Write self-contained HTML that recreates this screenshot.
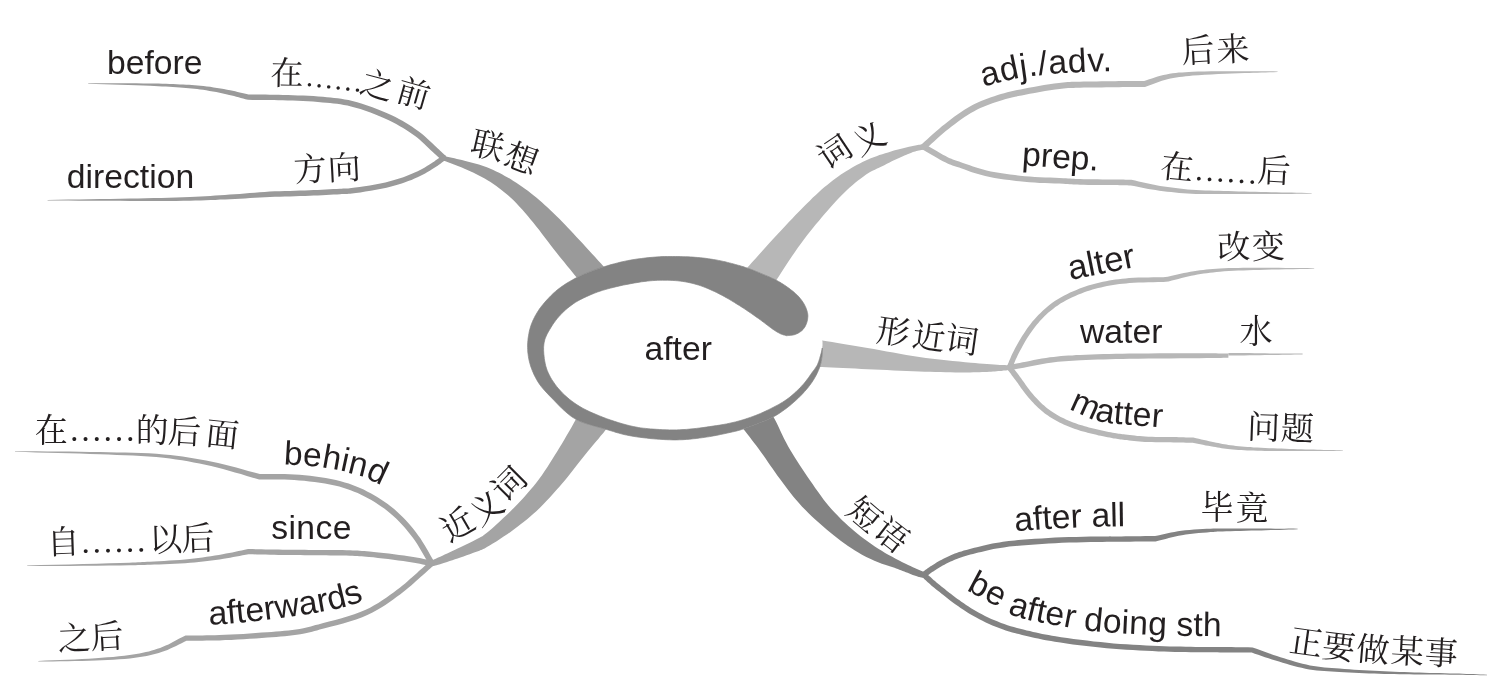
<!DOCTYPE html>
<html lang="zh"><head><meta charset="utf-8"><title>after — mind map</title>
<style>html,body{margin:0;padding:0;background:#fff}body{width:1505px;height:696px;overflow:hidden;font-family:"Liberation Sans",sans-serif}svg{display:block;will-change:transform}</style></head>
<body>
<svg width="1505" height="696" viewBox="0 0 1505 696">
<defs><path id="p1" d="M975 90L976.4 89.5L977.8 89L979.2 88.4L980.6 87.9L982.2 87.4L984 86.8L987.5 85.7L991.6 84.5L996 83.3L1000.7 82L1005.4 80.8L1010 79.8L1014.8 78.8L1019.7 78L1024.7 77.2L1029.7 76.5L1034.8 75.8L1040 75.2L1045.7 74.6L1051.5 74L1057.3 73.5L1063.2 73.1L1069.1 72.7L1075 72.3L1080.9 72L1087 71.7L1093.1 71.5L1099.1 71.3L1104.7 71.1L1110 71L1113.7 70.9L1117.1 70.9L1120.3 70.9L1123.5 70.8L1126.7 70.8L1130 70.8"/><path id="p2" d="M1060 403.7L1061.7 404.6L1063.4 405.5L1065 406.4L1066.8 407.4L1068.6 408.3L1070.5 409.3L1073.4 410.7L1076.5 412.2L1079.8 413.8L1083.1 415.3L1086.4 416.8L1089.5 418L1091.9 418.9L1094.1 419.7L1096.3 420.4L1098.5 421L1100.8 421.6L1103.4 422.2L1107.3 422.9L1111.5 423.4L1116 423.8L1120.6 424.2L1125.3 424.6L1130 425L1135.2 425.5L1140.7 425.9L1146.3 426.3L1151.7 426.7L1156.9 427.1L1161.6 427.4L1164.6 427.6L1167.5 427.8L1170.1 427.9L1172.7 428.1L1175.3 428.2L1178 428.4"/><path id="p3" d="M1005 532.3L1006.6 532.1L1008 532L1009.5 531.8L1011.1 531.7L1012.9 531.5L1015 531.3L1021.4 530.8L1029.6 530.2L1038.9 529.5L1048.7 528.9L1058.7 528.3L1068 527.8L1077.4 527.4L1087.3 527L1097.2 526.7L1106.6 526.5L1115 526.3L1121.9 526.2L1124.6 526.2L1126.9 526.2L1129 526.2L1131 526.2L1132.9 526.2L1135 526.2"/><path id="p4" d="M958 584.8L959.5 585.7L960.9 586.6L962.3 587.4L963.7 588.3L965.3 589.3L967.2 590.4L971.2 592.7L976.1 595.3L981.4 598.2L986.9 601.1L992.2 604L997 606.5L1000.3 608.3L1003.2 610.1L1006.1 611.8L1009 613.4L1012.2 615L1016 616.5L1023.3 618.7L1032.1 620.8L1041.6 622.7L1051.2 624.4L1060.2 625.9L1068 627.3L1072.2 628.1L1075.9 628.8L1079.3 629.4L1082.8 629.9L1086.6 630.5L1091 631L1100.2 631.9L1110.8 632.7L1122.5 633.5L1134.6 634.1L1146.6 634.7L1158 635.2L1168.9 635.6L1180.1 635.8L1191.3 636L1202 636.1L1211.7 636.2L1220 636.3L1224 636.4L1227.5 636.4L1230.7 636.4L1233.7 636.4L1236.8 636.5L1240 636.5"/><path id="p5" d="M270 464.5L272.2 464.5L274.5 464.5L276.7 464.5L279 464.6L281.1 464.6L283 464.6L284.3 464.6L285.4 464.6L286.6 464.6L287.7 464.7L288.8 464.7L290 464.7L291.5 464.7L293.2 464.8L294.8 464.8L296.5 464.9L298.2 465L300 465.1L302.1 465.2L304.3 465.4L306.5 465.6L308.8 465.8L311 466.1L313.2 466.3L315.2 466.5L317.2 466.8L319.2 467L321.1 467.3L323.1 467.5L325 467.8L326.8 468.1L328.6 468.3L330.3 468.6L332.1 468.8L333.8 469.1L335.4 469.4L336.8 469.7L338.1 470L339.4 470.2L340.7 470.5L342 470.9L343.4 471.2L345 471.6L346.5 472L348.2 472.5L349.8 472.9L351.4 473.4L353 473.9L354.6 474.4L356.2 474.8L357.8 475.3L359.4 475.8L360.9 476.4L362.5 476.9L364 477.5L365.5 478.1L367 478.7L368.5 479.3L370 479.9L371.5 480.6L373 481.3L374.5 482L376 482.7L377.5 483.4L379 484.1L380.6 484.9L382.5 485.9L384.5 486.9L386.5 488L388.4 489L390.3 490L392 491L393.1 491.6L394.1 492.3L395.1 492.8L396.1 493.4L397 494L398 494.6"/><path id="p6" d="M199 624.8L200.7 624.7L202.3 624.7L204 624.6L205.6 624.6L207.3 624.5L209 624.5L210.7 624.5L212.3 624.5L213.9 624.5L215.7 624.5L217.7 624.4L220 624.3L227.3 623.8L236.7 623L247.4 621.9L258.8 620.7L270.1 619.4L280.7 618.1L290.7 616.7L301 615.2L311.3 613.6L321.2 611.9L330.2 610.3L338.1 608.6L342.3 607.6L346.1 606.6L349.5 605.5L352.8 604.5L355.9 603.5L359 602.5L361.4 601.7L363.6 601L365.7 600.2L367.8 599.5L369.9 598.7L372 598"/></defs>
<rect width="1505" height="696" fill="#fff"/>
<g id="branches">
<path fill="#9a9a9a" d="M444.5 156.2L447 156.8L449.5 157.3L451.9 157.8L454.4 158.3L456.9 158.9L459.4 159.4L461.9 160.1L464.5 160.7L467.3 161.4L470.2 162.2L473.1 163L476 163.8L478.9 164.6L481.8 165.5L484.7 166.5L487.5 167.6L490.4 168.8L493.3 170.1L496.2 171.4L499.1 172.8L502 174.3L504.8 175.9L507.7 177.4L510.5 179.1L513.4 180.9L516.3 182.7L519.2 184.7L522.1 186.7L524.9 188.7L527.8 190.8L530.6 193L533.4 195.2L536.3 197.6L539.2 200L542.1 202.6L545 205.2L547.9 207.8L550.7 210.5L553.6 213.2L556.4 215.9L559.3 218.8L562.2 221.7L565.1 224.7L567.9 227.7L570.8 230.7L573.6 233.8L576.5 236.9L579.4 240L582.5 243.3L585.6 246.7L588.8 250.2L592 253.7L595.1 257.1L598.1 260.4L601 263.5L603.6 266.4L605.3 268.3L607 270.1L608.6 271.8L610.1 273.5L611.5 275.1L613 276.7L614.5 278.3L616 280L588 291L586.7 289.4L585.4 287.8L584.1 286.3L582.8 284.7L581.4 283.1L580.1 281.5L578.6 279.7L577.1 277.9L574.8 275.2L572.4 272.2L569.8 269.1L567.2 265.9L564.5 262.6L561.8 259.3L559.1 255.9L556.4 252.6L553.6 249L550.7 245.3L547.9 241.5L545 237.7L542.1 233.9L539.2 230.1L536.3 226.4L533.4 222.8L530.6 219.4L527.8 216.1L525 212.8L522.2 209.5L519.3 206.4L516.4 203.3L513.5 200.3L510.5 197.5L507.7 195L504.9 192.7L502.1 190.4L499.2 188.2L496.3 186.1L493.4 184L490.5 182.1L487.5 180.2L484.7 178.5L481.8 176.9L478.9 175.4L476 174L473.1 172.6L470.2 171.3L467.4 170L464.5 168.7L461.9 167.6L459.2 166.5L456.6 165.5L454 164.5L451.4 163.5L448.7 162.6L446.1 161.6L443.5 160.6Z"/>
<path fill="#b7b7b7" d="M923 144.2L921.9 144.4L920.8 144.5L919.8 144.7L918.8 144.8L917.7 145L916.5 145.2L915.3 145.4L914 145.7L911.6 146.2L909 146.8L906.1 147.5L903.1 148.2L900.1 149L897 149.8L893.9 150.6L891 151.5L888.1 152.4L885.2 153.3L882.3 154.2L879.4 155.1L876.5 156.2L873.6 157.2L870.8 158.3L868 159.5L865.2 160.7L862.5 162L859.8 163.4L857.1 164.8L854.4 166.3L851.8 167.8L849.1 169.4L846.5 171L843.7 172.8L840.9 174.6L838.2 176.6L835.4 178.5L832.7 180.6L829.9 182.7L827.2 184.9L824.5 187.1L821.6 189.6L818.7 192.2L815.8 194.9L812.9 197.6L810.1 200.4L807.2 203.3L804.4 206.1L801.5 209L798.5 212L795.5 215.1L792.6 218.2L789.6 221.3L786.6 224.5L783.6 227.7L780.6 231L777.5 234.3L774 238.1L770.3 242.1L766.5 246.3L762.7 250.4L759.1 254.5L755.6 258.4L752.3 262L749.5 265.3L747.9 267.1L746.5 268.8L745.2 270.4L743.9 272L742.7 273.5L741.5 274.9L740.3 276.4L739 278L769 293L770 291.3L770.9 289.7L771.8 288.1L772.7 286.4L773.7 284.8L774.7 283L775.9 281.1L777.1 279.1L779.4 275.4L782.1 271.2L785 266.7L788.1 262L791.3 257.2L794.6 252.4L797.8 247.8L801 243.4L803.9 239.5L806.9 235.6L809.9 231.8L812.9 228L815.9 224.3L819 220.7L822 217.1L825 213.6L827.7 210.4L830.5 207.3L833.2 204.3L835.9 201.2L838.7 198.3L841.4 195.4L844.2 192.7L847 190L849.7 187.6L852.4 185.2L855.2 182.8L858 180.6L860.8 178.4L863.5 176.4L866.1 174.6L868.5 173L870.1 172.1L871.5 171.2L873 170.5L874.4 169.9L875.8 169.3L877.1 168.6L878.5 168L880 167.3L881.6 166.5L883.2 165.7L884.8 164.9L886.4 164L888 163.2L889.6 162.4L891.3 161.6L892.9 160.8L894.5 160L896.2 159.3L897.9 158.5L899.6 157.7L901.2 157L902.9 156.3L904.4 155.6L905.9 155L907 154.5L908 154.1L909 153.7L910 153.3L911 152.9L911.9 152.5L912.9 152.1L914 151.8L915.2 151.5L916.4 151.1L917.7 150.8L918.9 150.6L920.2 150.3L921.5 150L922.7 149.8L924 149.5Z"/>
<path fill="#b7b7b7" d="M805 337.5L807.1 337.9L809.1 338.2L811.1 338.5L813.1 338.9L815.2 339.2L817.4 339.6L819.7 340L822.3 340.4L826.9 341.2L832.1 342L837.6 343L843.4 343.9L849.5 344.9L855.6 346L861.6 347L867.6 348L873.9 349.1L880.3 350.3L886.7 351.5L893.2 352.6L899.7 353.8L906.3 355L912.8 356L919.3 357L925.9 357.9L932.6 358.7L939.3 359.5L946.1 360.3L952.7 360.9L959.1 361.6L965.2 362.2L971 362.7L975.1 363.1L979.2 363.4L983.2 363.7L987 364L990.6 364.3L994.1 364.5L997.2 364.7L1000 364.9L1001.4 365L1002.7 365L1003.9 365.1L1005.1 365.1L1006.2 365.2L1007.2 365.2L1008.3 365.3L1009.5 365.3L1009.5 370L1008.3 370.1L1007.2 370.3L1006 370.4L1004.9 370.5L1003.7 370.6L1002.5 370.8L1001.3 370.9L1000 371L998.3 371.1L996.6 371.3L994.8 371.4L993 371.6L991.1 371.7L989.1 371.8L987.1 371.9L985 372L982.2 372.1L979.3 372.2L976.4 372.3L973.3 372.3L970.1 372.4L966.8 372.4L963.5 372.4L960 372.4L955.4 372.4L950.6 372.3L945.7 372.2L940.6 372.1L935.4 372L930 371.8L924.7 371.7L919.3 371.5L913.1 371.3L906.7 371L900.2 370.7L893.6 370.4L887 370.1L880.4 369.8L873.9 369.5L867.6 369.2L861.6 368.9L855.5 368.6L849.3 368.3L843.2 368L837.4 367.7L831.8 367.4L826.6 367.2L822 367L819.5 366.9L817.2 366.8L815 366.8L813 366.7L811 366.7L809.1 366.6L807.1 366.6L805 366.5Z"/>
<path fill="#838383" d="M764 402L765.1 403.8L766.3 405.5L767.4 407.1L768.5 408.8L769.7 410.6L770.8 412.4L772 414.3L773.2 416.4L774.9 419.6L776.7 423.1L778.5 426.8L780.3 430.7L782.2 434.7L784.1 438.7L786.1 442.6L788.2 446.4L790.4 450.2L792.7 454L795 457.7L797.4 461.5L799.8 465.2L802.3 469L804.8 472.7L807.3 476.4L809.9 480.2L812.6 484.1L815.2 488L818 491.8L820.7 495.6L823.5 499.4L826.3 503L829.2 506.4L831.8 509.4L834.4 512.3L837.1 515.1L839.7 517.8L842.4 520.5L845.2 523.1L848.1 525.7L851 528.3L854.2 531L857.5 533.7L860.9 536.4L864.3 539L867.8 541.5L871.3 544L874.8 546.4L878.3 548.7L881.7 550.8L885.1 552.9L888.7 554.9L892.2 556.8L895.6 558.7L899.1 560.5L902.4 562.2L905.6 563.8L908.1 565L910.5 566.1L912.9 567.2L915.2 568.2L917.5 569.2L919.8 570.2L922.2 571.2L924.5 572.2L923 577.6L922.5 577.5L922 577.5L921.5 577.4L921 577.4L920.5 577.3L920 577.3L919.4 577.1L918.8 577L917.5 576.6L916.1 576.1L914.5 575.6L912.8 574.9L911 574.2L909.3 573.5L907.6 572.8L905.9 572.2L904.3 571.6L902.7 570.9L901 570.3L899.4 569.7L897.8 569L896.2 568.4L894.5 567.8L892.9 567.2L891.3 566.7L889.7 566.2L888.2 565.7L886.6 565.2L885.1 564.8L883.4 564.3L881.8 563.7L880 563L877.5 562L875 560.9L872.3 559.8L869.6 558.5L866.8 557.2L863.9 555.7L861.1 554.2L858.3 552.6L854.9 550.5L851.5 548.3L848 545.9L844.5 543.4L841 540.9L837.5 538.2L834 535.5L830.6 532.7L826.9 529.7L823.2 526.6L819.5 523.3L815.8 520L812.2 516.7L808.6 513.3L805.2 509.8L801.9 506.4L798.9 503.1L796 499.8L793.2 496.4L790.5 492.9L787.8 489.5L785.2 486L782.6 482.6L780 479.1L777.5 475.7L775.1 472.3L772.7 468.8L770.3 465.4L767.9 461.9L765.6 458.5L763.3 455.2L760.9 451.9L758.6 448.8L756.4 445.8L754 442.7L751.7 439.7L749.5 436.8L747.3 433.9L745.2 431.2L743.2 428.7L741.8 426.9L740.5 425.2L739.2 423.6L737.9 422.1L736.7 420.6L735.5 419.1L734.3 417.6L733 416Z"/>
<path fill="#a4a4a4" d="M431 560.8L431.9 560.4L432.7 560L433.5 559.7L434.4 559.3L435.2 558.9L436.2 558.5L437.1 558.1L438.2 557.6L440.2 556.7L442.4 555.7L444.7 554.6L447.2 553.5L449.8 552.3L452.4 551L455.1 549.8L457.6 548.6L460.4 547.2L463.5 545.8L466.6 544.2L469.8 542.7L472.8 541.2L475.6 539.8L478 538.6L480 537.5L480.7 537.1L481.3 536.8L481.9 536.5L482.3 536.2L482.8 535.9L483.3 535.5L483.9 535.1L484.6 534.6L486.9 532.8L489.7 530.5L492.9 527.7L496.4 524.6L500 521.3L503.6 517.8L507.2 514.5L510.5 511.2L513.8 507.9L517.2 504.4L520.5 500.9L523.8 497.4L527 493.8L530.2 490.1L533.3 486.4L536.3 482.7L539.1 479L541.9 475.2L544.5 471.3L547.1 467.4L549.6 463.5L552.1 459.6L554.6 455.6L557 451.7L559.4 447.8L561.9 443.7L564.4 439.5L566.8 435.3L569.2 431.3L571.4 427.4L573.3 423.9L575.1 420.7L576 419L576.8 417.4L577.6 415.9L578.3 414.5L579 413.2L579.6 411.8L580.3 410.4L581 409L615 416L614.1 417.4L613.2 418.8L612.4 420.2L611.5 421.5L610.6 422.9L609.7 424.4L608.7 425.9L607.5 427.5L605.5 430.1L603.3 432.9L600.8 435.8L598.3 438.9L595.6 442L592.9 445.2L590.2 448.5L587.5 451.7L584.5 455.4L581.5 459.2L578.5 463.1L575.4 467.1L572.3 471.1L569.2 475L566 478.9L562.8 482.7L559.6 486.4L556.4 490.1L553.1 493.8L549.8 497.5L546.4 501.1L543.1 504.6L539.7 508L536.3 511.2L533.1 514.1L530 516.8L526.8 519.5L523.6 522.1L520.3 524.6L517.1 527.1L513.8 529.5L510.5 531.9L507.2 534.2L503.6 536.6L500 539.1L496.3 541.4L492.8 543.6L489.6 545.5L486.9 547.1L484.6 548.4L483.9 548.8L483.3 549.1L482.8 549.3L482.3 549.5L481.8 549.7L481.3 549.9L480.7 550.1L480 550.4L478 551.2L475.6 552.1L472.8 553.1L469.8 554.2L466.6 555.3L463.5 556.4L460.4 557.4L457.6 558.4L455 559.3L452.4 560.2L449.7 561.1L447.1 562L444.6 562.8L442.2 563.6L440.1 564.2L438.2 564.8L437.3 565L436.5 565.2L435.8 565.4L435.1 565.6L434.5 565.7L433.8 565.9L433.2 566L432.5 566.2Z"/>
<path fill="#9a9a9a" d="M88.2 83.8L96.1 84.1L104.2 84.3L112.3 84.5L120.5 84.7L128.4 85L136.1 85.2L143.3 85.5L150 85.8L154.2 86L158.3 86.2L162.2 86.4L165.8 86.6L169.4 86.8L172.9 87.1L176.4 87.3L179.9 87.6L182.9 87.8L185.9 88L188.7 88.3L191.6 88.5L194.4 88.8L197.2 89.1L200 89.4L203 89.8L206.2 90.3L209.5 90.9L212.9 91.5L216.3 92.1L219.6 92.8L222.9 93.5L226.1 94.2L229.2 94.9L231.7 95.5L234 96.1L236.3 96.7L238.6 97.3L240.8 97.9L243.1 98.5L245.4 99.2L248.1 99.8L252.6 99.9L256.9 99.9L261.2 100L265.4 100L269.7 100L274 100.1L278.4 100.2L282.8 100.3L287.7 100.5L292.7 100.6L297.8 100.8L303 101L308 101.3L313 101.6L317.9 102L322.6 102.4L326.4 102.7L330 103.1L333.5 103.4L337 103.8L340.4 104.3L343.8 104.9L347.4 105.6L351 106.4L355.6 107.7L360.4 109.1L365.4 110.8L370.4 112.6L375.4 114.5L380.2 116.5L384.9 118.5L389.3 120.5L392.8 122.3L396.2 124.1L399.5 125.9L402.7 127.8L405.9 129.7L408.9 131.7L411.8 133.7L414.7 135.8L417.1 137.6L419.5 139.6L421.9 141.7L424.1 143.8L426.4 145.9L428.5 147.9L430.5 149.9L432.5 151.7L433.8 152.9L434.9 154L436.1 155L437.1 156.1L438.2 157.1L439.3 158.1L440.3 159.1L441.4 160.2L445.6 155.8L444.5 154.8L443.4 153.8L442.3 152.8L441.3 151.7L440.2 150.7L439 149.6L437.8 148.5L436.5 147.3L434.6 145.5L432.6 143.6L430.4 141.6L428.2 139.5L425.8 137.3L423.3 135.1L420.8 133L418.1 131L415.2 128.9L412.1 126.8L409 124.8L405.7 122.8L402.4 120.8L399 118.9L395.4 117.1L391.7 115.3L387.2 113.2L382.4 111.2L377.5 109.2L372.4 107.2L367.2 105.4L362.1 103.7L357.2 102.2L352.4 101L348.5 100.1L344.8 99.4L341.2 98.8L337.7 98.3L334.1 97.9L330.6 97.5L326.9 97.2L323 96.8L318.3 96.4L313.4 96.1L308.3 95.8L303.2 95.6L298 95.4L292.9 95.2L287.9 95L283 94.9L278.5 94.8L274.1 94.7L269.8 94.7L265.5 94.6L261.2 94.6L256.9 94.6L252.6 94.6L248.5 94.6L246.6 94.1L244.4 93.5L242.1 93L239.8 92.4L237.5 91.9L235.2 91.3L232.7 90.8L230.2 90.3L227.1 89.7L223.8 89.1L220.5 88.5L217 87.9L213.6 87.4L210.1 86.8L206.8 86.4L203.4 86L200.5 85.7L197.6 85.4L194.7 85.2L191.8 85L189 84.8L186.1 84.7L183.1 84.6L180.1 84.4L176.6 84.2L173.1 84.1L169.6 84L166 83.8L162.3 83.7L158.4 83.6L154.3 83.5L150 83.4L143.4 83.4L136.1 83.3L128.5 83.2L120.5 83.2L112.4 83.2L104.2 83.2L96.1 83.2L88.2 83.2Z"/>
<path fill="#9a9a9a" d="M47.6 200.5L58 200.6L68.5 200.6L79.1 200.7L89.6 200.7L100.1 200.8L110.3 200.8L120.3 200.8L130 200.9L138 200.9L146 200.9L153.7 200.9L161.4 200.9L168.8 200.9L176.1 200.9L183.2 200.8L190.1 200.7L195.4 200.6L200.6 200.4L205.7 200.3L210.6 200.1L215.4 199.9L220.2 199.6L225.1 199.4L230 199.2L235 198.9L240 198.7L245 198.4L250 198.1L255 197.8L260 197.5L265 197.2L269.9 196.9L274.9 196.8L280 196.7L285 196.5L290.1 196.4L295.1 196.2L300.1 196.1L305 195.9L309.7 195.7L313.8 195.6L317.9 195.4L322.1 195.2L326.1 195L330 194.8L333.6 194.6L337.1 194.4L340.1 194.2L341.8 194.1L343.3 194.1L344.6 194L345.9 194L347.2 193.9L348.6 193.8L350.2 193.7L352 193.5L355.9 193L360.4 192.4L365.4 191.6L370.7 190.8L376.1 189.8L381.4 188.8L386.5 187.7L391.2 186.5L394.8 185.5L398.3 184.5L401.7 183.4L405.1 182.3L408.3 181.1L411.5 179.9L414.5 178.6L417.5 177.3L420.1 176L422.6 174.7L425.1 173.4L427.5 172L429.8 170.7L432 169.3L434 168L436 166.8L437.3 165.9L438.6 165L439.7 164.2L440.8 163.4L441.9 162.6L443 161.8L444 161L445.1 160.2L441.9 155.8L440.8 156.6L439.7 157.4L438.7 158.2L437.6 159L436.5 159.8L435.4 160.6L434.3 161.4L433 162.2L431.1 163.4L429.1 164.7L427 166L424.8 167.4L422.5 168.7L420.1 169.9L417.7 171.2L415.3 172.3L412.4 173.6L409.4 174.8L406.4 176L403.3 177.2L400 178.3L396.7 179.3L393.3 180.3L389.8 181.3L385.3 182.4L380.3 183.4L375.1 184.5L369.8 185.4L364.6 186.2L359.6 187L355.2 187.6L351.4 188.1L349.7 188.3L348.2 188.4L346.9 188.5L345.7 188.5L344.4 188.6L343.1 188.6L341.6 188.7L339.9 188.8L336.8 188.9L333.4 189.1L329.7 189.3L325.8 189.5L321.8 189.7L317.7 189.9L313.6 190.1L309.5 190.3L304.8 190.4L299.9 190.6L295 190.7L290 190.9L284.9 191L279.8 191.2L274.7 191.3L269.7 191.5L264.6 191.9L259.6 192.3L254.7 192.7L249.7 193.1L244.7 193.5L239.7 193.9L234.7 194.3L229.8 194.6L224.8 195L220 195.3L215.2 195.6L210.4 196L205.5 196.3L200.5 196.6L195.3 196.8L189.9 197.1L183.1 197.3L176.1 197.6L168.8 197.8L161.3 197.9L153.7 198.1L145.9 198.2L138 198.4L130 198.5L120.3 198.7L110.3 198.9L100.1 199.1L89.6 199.2L79.1 199.4L68.5 199.5L58 199.7L47.6 199.9Z"/>
<path fill="#b7b7b7" d="M1277.6 71.4L1273.5 71.3L1269.5 71.3L1265.5 71.3L1261.5 71.3L1257.4 71.3L1253.3 71.3L1249 71.3L1244.5 71.3L1238.4 71.3L1231.9 71.3L1225.1 71.3L1218.2 71.2L1211.3 71.3L1204.6 71.4L1198.3 71.5L1192.6 71.8L1188.9 72L1185.4 72.2L1182.1 72.4L1178.8 72.6L1175.7 73L1172.6 73.3L1169.5 73.8L1166.4 74.4L1163.4 75L1160.4 75.8L1157.6 76.6L1154.7 77.5L1151.9 78.4L1149.2 79.3L1146.4 80.2L1144.2 80.9L1140.9 80.9L1137.3 81L1133.7 81L1130 81L1126.4 81.1L1122.7 81.1L1119 81.1L1115.2 81.2L1110.8 81.2L1106.3 81.3L1101.6 81.3L1096.9 81.4L1092.3 81.4L1087.9 81.5L1083.7 81.6L1079.9 81.7L1077.6 81.7L1075.5 81.8L1073.6 81.8L1071.7 81.8L1069.7 81.9L1067.7 82L1065.5 82.2L1063.1 82.4L1058.9 82.9L1054.2 83.5L1049.2 84.2L1044 85.1L1038.7 86L1033.6 86.9L1028.6 87.8L1024 88.7L1020.5 89.4L1017.1 90.1L1013.8 90.8L1010.5 91.6L1007.3 92.3L1004.1 93.2L1000.9 94.1L997.7 95.1L994.3 96.2L991 97.3L987.7 98.5L984.4 99.8L981.1 101.1L977.8 102.6L974.5 104.1L971.2 105.8L967.8 107.7L964.4 109.8L961.1 112L957.8 114.3L954.5 116.6L951.3 119L948.1 121.5L945 123.9L941.9 126.3L938.9 128.9L935.9 131.4L933 134L930.2 136.6L927.3 139.2L924.4 141.8L921.5 144.4L925.7 149L928.6 146.4L931.4 143.8L934.3 141.2L937.2 138.6L940 136.1L942.9 133.6L945.8 131.1L948.8 128.7L951.9 126.3L955 124L958.2 121.6L961.3 119.3L964.5 117.1L967.7 115L970.9 113L974.2 111.2L977.2 109.6L980.3 108.1L983.5 106.8L986.6 105.5L989.8 104.2L993.1 103.1L996.3 102L999.5 100.9L1002.7 100L1005.7 99.1L1008.8 98.3L1011.9 97.5L1015.1 96.8L1018.3 96.1L1021.7 95.4L1025.2 94.7L1029.8 93.8L1034.7 92.9L1039.8 92L1045 91.1L1050.1 90.2L1055.1 89.5L1059.6 88.9L1063.7 88.4L1066 88.2L1068.1 88.1L1070 88L1071.8 87.9L1073.7 87.9L1075.6 87.8L1077.7 87.8L1080.1 87.7L1083.9 87.6L1088 87.6L1092.4 87.5L1097 87.4L1101.7 87.4L1106.3 87.3L1110.9 87.3L1115.2 87.2L1119 87.2L1122.8 87.1L1126.4 87.1L1130.1 87L1133.7 87L1137.3 87L1141 86.9L1145 86.9L1148.3 85.8L1151.1 84.7L1153.8 83.7L1156.5 82.7L1159.2 81.7L1161.9 80.8L1164.7 80L1167.4 79.2L1170.4 78.6L1173.3 78L1176.3 77.5L1179.3 77.1L1182.5 76.7L1185.7 76.3L1189.2 76L1192.8 75.6L1198.5 75.2L1204.7 74.8L1211.4 74.4L1218.2 74.1L1225.2 73.8L1232 73.6L1238.5 73.3L1244.5 73.1L1249 72.9L1253.3 72.8L1257.5 72.7L1261.5 72.5L1265.5 72.4L1269.5 72.3L1273.5 72.2L1277.6 72Z"/>
<path fill="#b7b7b7" d="M1311.7 193L1306.7 192.9L1301.7 192.8L1296.6 192.7L1291.6 192.6L1286.6 192.5L1281.6 192.4L1276.5 192.3L1271.4 192.2L1266.1 192L1260.7 191.9L1255.2 191.8L1249.7 191.7L1244.3 191.5L1238.9 191.4L1233.6 191.2L1228.3 191.1L1223.6 190.9L1218.9 190.8L1214.2 190.7L1209.6 190.6L1205.1 190.4L1200.6 190.2L1196.1 190L1191.7 189.7L1187.6 189.4L1183.6 189L1179.6 188.6L1175.6 188.1L1171.7 187.6L1167.8 187.1L1163.9 186.5L1160.1 185.9L1156.4 185.3L1152.9 184.6L1149.3 183.8L1145.8 183L1142.2 182.2L1138.7 181.4L1135.1 180.6L1131.4 179.8L1129.1 179.8L1127.3 179.7L1125.4 179.7L1123.5 179.6L1121.6 179.6L1119.6 179.6L1117.5 179.5L1115.2 179.5L1111.4 179.4L1107.1 179.4L1102.5 179.4L1097.7 179.3L1092.9 179.3L1088.2 179.3L1083.9 179.2L1080.1 179.1L1077.8 179L1075.7 178.9L1073.8 178.8L1071.9 178.7L1070 178.6L1068.1 178.4L1065.9 178.3L1063.5 178.2L1059.4 178L1054.9 177.8L1050.1 177.6L1045.1 177.4L1040 177.2L1034.8 176.9L1029.8 176.6L1024.9 176.2L1020 175.7L1015 175.1L1010.1 174.5L1005.1 173.8L1000.2 173L995.5 172.2L990.9 171.4L986.6 170.4L983.1 169.5L979.6 168.6L976.2 167.5L973 166.4L969.8 165.3L966.7 164.2L963.7 163.2L960.9 162.2L959.1 161.5L957.4 161L955.8 160.4L954.3 159.9L952.9 159.4L951.4 158.8L949.8 158.2L948.1 157.4L945.6 156.1L942.9 154.7L940 153.1L937.1 151.3L934.1 149.5L931 147.7L928 145.9L925.1 144.2L922.1 149.2L925.1 150.9L928.1 152.7L931.1 154.5L934.2 156.3L937.2 158.1L940.1 159.7L942.9 161.3L945.7 162.6L947.5 163.4L949.2 164.2L950.8 164.8L952.4 165.4L954 165.9L955.6 166.4L957.2 167L959.1 167.6L961.8 168.6L964.7 169.6L967.9 170.7L971.1 171.9L974.5 173L978 174.1L981.6 175.1L985.2 176L989.8 177L994.5 177.9L999.3 178.7L1004.3 179.5L1009.3 180.1L1014.4 180.8L1019.4 181.3L1024.3 181.8L1029.3 182.3L1034.5 182.6L1039.7 182.9L1044.9 183.1L1049.9 183.3L1054.7 183.5L1059.2 183.6L1063.3 183.8L1065.6 184L1067.7 184.1L1069.7 184.2L1071.6 184.3L1073.5 184.4L1075.4 184.5L1077.6 184.6L1079.9 184.7L1083.8 184.8L1088.2 184.9L1092.8 184.9L1097.6 185L1102.4 185L1107.1 185L1111.3 185.1L1115.2 185.1L1117.4 185.1L1119.5 185.2L1121.5 185.2L1123.4 185.3L1125.3 185.3L1127.1 185.3L1129 185.4L1130.6 185.4L1134 186L1137.6 186.7L1141.1 187.4L1144.7 188.2L1148.3 188.9L1151.9 189.5L1155.6 190.1L1159.3 190.7L1163.3 191.2L1167.2 191.7L1171.2 192.1L1175.2 192.5L1179.2 192.9L1183.2 193.2L1187.3 193.5L1191.5 193.7L1195.9 193.9L1200.5 194L1205 194.1L1209.6 194.1L1214.2 194.1L1218.8 194.1L1223.5 194.1L1228.3 194.1L1233.5 194.1L1238.8 194.1L1244.3 194.1L1249.7 194.1L1255.2 194.1L1260.6 194.1L1266 194.1L1271.4 194L1276.5 194L1281.6 194L1286.6 193.9L1291.6 193.9L1296.6 193.8L1301.7 193.8L1306.7 193.7L1311.7 193.6Z"/>
<path fill="#b7b7b7" d="M1314.2 268.2L1307.2 268.1L1300.1 268L1292.9 267.9L1285.8 267.9L1278.7 267.8L1271.8 267.7L1265.1 267.7L1258.6 267.7L1253.3 267.8L1248.2 267.8L1243.2 267.8L1238.2 267.9L1233.4 268L1228.7 268.1L1224.1 268.3L1219.7 268.5L1216.2 268.7L1212.8 269L1209.5 269.3L1206.3 269.6L1203.2 269.9L1200 270.3L1196.9 270.7L1193.7 271.2L1190.4 271.8L1187.1 272.4L1183.8 273.1L1180.5 273.8L1177.3 274.6L1174 275.3L1170.8 276.1L1167.7 276.7L1163.1 277.2L1158.2 277.3L1153.2 277.3L1148.2 277.4L1143.2 277.5L1138.3 277.6L1133.6 277.8L1129.1 278.1L1125.6 278.5L1122.1 278.8L1118.8 279.2L1115.5 279.6L1112.3 280.1L1109.2 280.6L1106 281.2L1102.9 281.8L1099.9 282.5L1096.9 283.2L1094 283.9L1091.1 284.7L1088.2 285.6L1085.4 286.5L1082.5 287.5L1079.6 288.6L1076.4 289.9L1073.3 291.2L1070.1 292.6L1066.9 294.2L1063.8 295.8L1060.7 297.4L1057.7 299.2L1054.8 301L1052.3 302.8L1049.7 304.7L1047.3 306.7L1045 308.7L1042.7 310.7L1040.5 312.9L1038.3 315L1036.3 317.2L1034.3 319.4L1032.4 321.6L1030.6 323.9L1028.8 326.3L1027.1 328.6L1025.5 331L1023.9 333.4L1022.3 335.8L1020.8 338.2L1019.3 340.7L1017.9 343.2L1016.5 345.8L1015.1 348.3L1013.9 350.8L1012.7 353.1L1011.6 355.3L1010.9 356.9L1010.3 358.4L1009.7 359.8L1009.1 361.1L1008.6 362.5L1008 363.8L1007.5 365.1L1007 366.5L1012 368.5L1012.6 367.2L1013.1 365.8L1013.7 364.5L1014.2 363.2L1014.7 361.9L1015.3 360.5L1015.9 359.1L1016.6 357.7L1017.6 355.5L1018.7 353.2L1020 350.8L1021.3 348.4L1022.6 345.9L1024 343.4L1025.4 341L1026.9 338.6L1028.4 336.3L1029.9 334L1031.5 331.7L1033.1 329.4L1034.8 327.2L1036.5 325L1038.3 322.9L1040.1 320.8L1042.1 318.7L1044.2 316.6L1046.3 314.6L1048.4 312.6L1050.7 310.7L1053 308.9L1055.3 307.1L1057.8 305.4L1060.4 303.6L1063.3 302L1066.2 300.3L1069.2 298.8L1072.3 297.3L1075.3 295.9L1078.4 294.6L1081.4 293.4L1084.2 292.3L1087 291.3L1089.8 290.4L1092.5 289.6L1095.3 288.8L1098.1 288.1L1101 287.4L1103.9 286.8L1107 286.1L1110 285.5L1113.1 285L1116.2 284.5L1119.4 284.1L1122.7 283.7L1126 283.4L1129.5 283.1L1133.9 282.7L1138.5 282.5L1143.3 282.4L1148.2 282.3L1153.2 282.2L1158.2 282.1L1163.3 282L1168.5 281.5L1171.9 280.6L1175.1 279.8L1178.3 278.9L1181.6 278.1L1184.8 277.3L1188 276.5L1191.1 275.8L1194.3 275.2L1197.5 274.6L1200.6 274.1L1203.7 273.6L1206.8 273.2L1209.9 272.8L1213.1 272.4L1216.5 272L1219.9 271.7L1224.3 271.3L1228.8 271L1233.5 270.8L1238.3 270.6L1243.2 270.4L1248.2 270.2L1253.4 270L1258.6 269.9L1265.1 269.7L1271.8 269.5L1278.7 269.4L1285.8 269.3L1292.9 269.2L1300.1 269.1L1307.2 269L1314.2 268.8Z"/>
<path fill="#b7b7b7" d="M1302.6 353.6L1298.5 353.5L1294.5 353.5L1290.5 353.5L1286.5 353.5L1282.5 353.4L1278.4 353.4L1274.3 353.4L1270 353.4L1265 353.3L1260 353.2L1254.8 353.2L1249.5 353.1L1244.2 353.1L1238.9 353L1233.6 352.9L1228.4 352.9L1228.4 355.5L1233.6 355.5L1238.9 355.4L1244.2 355.4L1249.5 355.3L1254.8 355.2L1260 355.2L1265 355.1L1270 355L1274.3 355L1278.4 354.9L1282.5 354.8L1286.6 354.8L1290.6 354.7L1294.5 354.6L1298.6 354.5L1302.6 354.4Z"/>
<path fill="#b7b7b7" d="M1228.4 353.5L1225.8 353.5L1223.3 353.4L1220.9 353.4L1218.5 353.4L1215.9 353.3L1213.2 353.3L1210.2 353.3L1206.9 353.3L1199.4 353.3L1190.5 353.3L1180.5 353.3L1170 353.3L1159.2 353.3L1148.5 353.4L1138.4 353.5L1129.3 353.6L1122.5 353.7L1116 353.8L1109.6 353.9L1103.4 354.1L1097.4 354.2L1091.5 354.4L1085.8 354.7L1080.4 354.9L1076.2 355.1L1072.3 355.4L1068.5 355.6L1064.7 355.8L1061.1 356.1L1057.4 356.5L1053.7 356.9L1049.9 357.3L1046 357.9L1041.9 358.6L1037.8 359.3L1033.7 360.1L1029.7 360.9L1026 361.7L1022.6 362.3L1019.6 362.9L1018 363.2L1016.6 363.4L1015.2 363.7L1014 363.9L1012.8 364.1L1011.5 364.3L1010.3 364.6L1009 364.8L1010 370.2L1011.3 370L1012.5 369.8L1013.7 369.5L1014.9 369.3L1016.2 369.1L1017.6 368.8L1019 368.6L1020.6 368.3L1023.7 367.7L1027.1 367L1030.8 366.3L1034.8 365.5L1038.8 364.7L1042.8 363.9L1046.8 363.2L1050.7 362.7L1054.3 362.2L1057.9 361.8L1061.5 361.5L1065.1 361.2L1068.8 361L1072.6 360.7L1076.5 360.5L1080.6 360.3L1086.1 360L1091.7 359.8L1097.5 359.6L1103.5 359.4L1109.7 359.2L1116.1 359.1L1122.6 358.9L1129.3 358.8L1138.5 358.7L1148.6 358.6L1159.2 358.5L1170 358.4L1180.5 358.3L1190.5 358.3L1199.4 358.2L1206.9 358.1L1210.2 358.1L1213.2 358L1216 358L1218.5 357.9L1220.9 357.9L1223.3 357.8L1225.8 357.8L1228.4 357.7Z"/>
<path fill="#b7b7b7" d="M1342.9 450.4L1339.7 450.3L1336.6 450.2L1333.4 450.1L1330.3 450.1L1327.1 450L1323.9 449.9L1320.6 449.8L1317.3 449.7L1313.5 449.6L1309.6 449.5L1305.6 449.4L1301.6 449.3L1297.5 449.2L1293.5 449L1289.4 448.9L1285.4 448.8L1281.4 448.6L1277.3 448.5L1273.2 448.3L1269.2 448.2L1265.1 448L1261.2 447.8L1257.3 447.6L1253.6 447.4L1250.5 447.1L1247.5 446.9L1244.5 446.7L1241.6 446.5L1238.8 446.2L1236 445.9L1233.3 445.6L1230.6 445.3L1228.5 445L1226.4 444.6L1224.4 444.3L1222.4 443.9L1220.4 443.5L1218.3 443.1L1216.3 442.7L1214.1 442.2L1211.7 441.7L1209.2 441.2L1206.6 440.6L1204 440L1201.4 439.4L1198.8 438.8L1196.1 438.2L1193.3 437.6L1190.7 437.5L1188.4 437.4L1186 437.4L1183.7 437.3L1181.4 437.2L1178.9 437.2L1176.4 437.1L1173.9 437L1170.5 437L1166.9 436.9L1163.2 436.9L1159.5 436.9L1155.7 436.9L1152 436.8L1148.5 436.7L1145.1 436.5L1142.5 436.3L1139.8 436.1L1137.2 435.9L1134.7 435.6L1132.2 435.3L1129.8 435.1L1127.5 434.8L1125.3 434.5L1123.8 434.3L1122.5 434.2L1121.2 434L1119.9 433.8L1118.7 433.7L1117.4 433.5L1116.1 433.3L1114.7 433L1112.7 432.7L1110.7 432.3L1108.6 431.9L1106.4 431.5L1104.2 431L1102 430.5L1099.8 430L1097.6 429.6L1095.5 429L1093.3 428.5L1091.1 428L1088.9 427.4L1086.8 426.8L1084.7 426.3L1082.6 425.6L1080.5 425L1078.6 424.4L1076.8 423.7L1074.9 423.1L1073.1 422.4L1071.3 421.7L1069.5 421L1067.7 420.2L1065.9 419.4L1064.2 418.6L1062.5 417.7L1060.7 416.9L1059 416L1057.3 415L1055.7 414.1L1054.1 413.1L1052.5 412.1L1051 411.1L1049.6 410.1L1048.2 409L1046.8 407.9L1045.4 406.8L1044.1 405.6L1042.7 404.4L1041.4 403.2L1039.9 401.8L1038.5 400.3L1037.1 398.8L1035.6 397.3L1034.2 395.7L1032.8 394.1L1031.5 392.4L1030.2 390.9L1029 389.3L1027.8 387.8L1026.7 386.3L1025.6 384.7L1024.5 383.1L1023.4 381.5L1022.2 379.9L1021.1 378.3L1019.9 376.7L1018.7 375.1L1017.6 373.6L1016.4 372L1015.2 370.5L1014.1 368.9L1012.9 367.4L1011.7 365.8L1007.3 369.2L1008.4 370.7L1009.6 372.3L1010.8 373.8L1011.9 375.4L1013.1 376.9L1014.2 378.5L1015.4 380L1016.5 381.5L1017.7 383.1L1018.8 384.7L1019.9 386.3L1021 387.9L1022.2 389.5L1023.3 391.1L1024.6 392.7L1025.8 394.3L1027.2 396L1028.6 397.7L1030 399.3L1031.5 401L1033 402.6L1034.5 404.2L1036.1 405.7L1037.6 407.2L1039 408.5L1040.5 409.8L1041.9 411L1043.4 412.2L1044.8 413.4L1046.3 414.5L1047.9 415.6L1049.5 416.7L1051.2 417.8L1052.9 418.8L1054.6 419.8L1056.4 420.8L1058.2 421.8L1060 422.7L1061.8 423.5L1063.7 424.4L1065.5 425.2L1067.4 426L1069.2 426.8L1071.1 427.5L1073 428.2L1075 428.9L1076.9 429.6L1078.9 430.2L1081 430.9L1083.2 431.5L1085.4 432.1L1087.6 432.7L1089.8 433.3L1092 433.8L1094.2 434.3L1096.4 434.8L1098.6 435.4L1100.8 435.8L1103.1 436.3L1105.3 436.8L1107.5 437.2L1109.7 437.6L1111.8 438L1113.7 438.4L1115.2 438.6L1116.6 438.8L1117.9 439L1119.2 439.2L1120.5 439.4L1121.8 439.5L1123.2 439.7L1124.7 439.9L1126.9 440.1L1129.2 440.4L1131.6 440.7L1134.1 441L1136.7 441.2L1139.4 441.5L1142.1 441.7L1144.9 441.9L1148.3 442L1151.9 442.1L1155.6 442.2L1159.4 442.2L1163.2 442.3L1166.9 442.3L1170.4 442.3L1173.7 442.4L1176.3 442.4L1178.8 442.5L1181.2 442.5L1183.6 442.6L1185.9 442.7L1188.2 442.7L1190.6 442.8L1192.7 442.8L1195.1 443.3L1197.7 443.8L1200.3 444.3L1203 444.8L1205.6 445.4L1208.2 445.8L1210.8 446.3L1213.3 446.8L1215.4 447.1L1217.5 447.5L1219.6 447.8L1221.6 448.2L1223.7 448.5L1225.8 448.8L1227.9 449.1L1230.2 449.3L1232.9 449.6L1235.6 449.8L1238.5 450L1241.3 450.1L1244.3 450.3L1247.3 450.4L1250.3 450.5L1253.4 450.6L1257.2 450.8L1261.1 450.8L1265 450.9L1269.1 450.9L1273.2 451L1277.3 451L1281.4 451L1285.4 451L1289.4 451.1L1293.4 451.1L1297.5 451.1L1301.6 451.1L1305.6 451.1L1309.6 451.1L1313.5 451.1L1317.3 451.1L1320.6 451.1L1323.9 451.1L1327.1 451.1L1330.3 451.1L1333.4 451.1L1336.6 451.1L1339.7 451.1L1342.9 451Z"/>
<path fill="#838383" d="M1297.7 528.7L1293.2 528.6L1288.6 528.6L1284.1 528.7L1279.6 528.7L1275.1 528.7L1270.6 528.6L1266 528.6L1261.4 528.6L1256.4 528.6L1251.1 528.6L1245.8 528.5L1240.4 528.5L1235.2 528.4L1230.4 528.4L1226.1 528.4L1222.6 528.4L1221.2 528.4L1220 528.4L1218.9 528.4L1218 528.4L1217 528.4L1215.9 528.4L1214.8 528.5L1213.4 528.5L1210.3 528.7L1206.7 528.8L1202.7 529L1198.4 529.3L1194 529.6L1189.6 529.9L1185.3 530.3L1181.3 530.8L1177.8 531.3L1174.4 531.9L1171 532.6L1167.7 533.3L1164.5 534L1161.2 534.7L1158 535.4L1155 536L1150.4 536.1L1145.4 536.1L1140.2 536.2L1135.1 536.2L1130.2 536.3L1125.6 536.3L1121.4 536.4L1117.8 536.4L1116.2 536.4L1114.8 536.4L1113.6 536.4L1112.5 536.4L1111.3 536.4L1110 536.3L1108.6 536.4L1106.9 536.4L1102.2 536.4L1096.6 536.5L1090.3 536.6L1083.4 536.7L1076.2 536.9L1068.9 537.1L1061.8 537.3L1055.1 537.6L1048.4 538L1041.7 538.4L1034.8 538.8L1028 539.3L1021.3 539.8L1014.8 540.4L1008.7 541.1L1003 541.8L999.3 542.4L995.7 543L992.4 543.6L989.1 544.3L986 545L982.9 545.7L979.9 546.4L976.9 547.2L974.3 547.8L971.6 548.5L969 549.2L966.4 549.9L963.8 550.6L961.4 551.4L959 552.1L956.6 552.9L954.8 553.6L953.1 554.3L951.4 555L949.8 555.7L948.2 556.4L946.6 557.2L945 558L943.4 558.8L941.7 559.7L940 560.6L938.2 561.6L936.5 562.6L934.8 563.7L933.2 564.7L931.6 565.7L930.1 566.6L929 567.4L927.9 568.1L926.9 568.9L925.9 569.6L925 570.3L924 571L923.1 571.7L922.1 572.4L925.5 577L926.5 576.3L927.4 575.6L928.4 574.9L929.3 574.2L930.2 573.5L931.2 572.8L932.2 572.1L933.3 571.4L934.7 570.4L936.2 569.5L937.8 568.5L939.4 567.5L941.1 566.5L942.7 565.6L944.4 564.7L946 563.8L947.5 563L949.1 562.3L950.6 561.6L952.1 560.9L953.6 560.2L955.2 559.5L956.8 558.9L958.6 558.3L960.8 557.5L963 556.8L965.4 556L967.9 555.3L970.4 554.6L973 554L975.6 553.3L978.3 552.6L981.3 551.9L984.2 551.2L987.2 550.5L990.3 549.8L993.4 549.1L996.7 548.5L1000.2 547.9L1003.8 547.4L1009.3 546.6L1015.3 546L1021.7 545.4L1028.4 544.9L1035.2 544.4L1042 543.9L1048.8 543.5L1055.3 543.2L1062 542.8L1069.1 542.6L1076.3 542.4L1083.5 542.2L1090.4 542.1L1096.7 542L1102.3 541.9L1106.9 541.8L1108.6 541.8L1110 541.8L1111.3 541.8L1112.4 541.8L1113.6 541.8L1114.8 541.8L1116.2 541.8L1117.8 541.8L1121.4 541.8L1125.6 541.8L1130.2 541.7L1135.2 541.6L1140.3 541.6L1145.4 541.5L1150.5 541.5L1155.6 541.4L1159.2 540.5L1162.4 539.7L1165.6 538.9L1168.8 538.1L1172 537.3L1175.3 536.5L1178.6 535.8L1181.9 535.2L1185.8 534.6L1190 534L1194.3 533.5L1198.7 533.1L1202.9 532.7L1206.9 532.4L1210.5 532.1L1213.6 531.9L1214.9 531.8L1216.1 531.7L1217.1 531.6L1218 531.6L1219 531.5L1220 531.5L1221.2 531.5L1222.6 531.4L1226.2 531.3L1230.4 531.2L1235.2 531L1240.4 530.9L1245.8 530.8L1251.2 530.6L1256.4 530.5L1261.4 530.4L1266 530.2L1270.6 530.1L1275.1 530L1279.6 529.9L1284.1 529.7L1288.7 529.6L1293.2 529.5L1297.7 529.3Z"/>
<path fill="#838383" d="M1487 674.7L1483.6 674.5L1480.2 674.4L1476.8 674.3L1473.4 674.1L1469.9 674L1466.4 673.9L1462.8 673.8L1459.1 673.6L1454.5 673.5L1449.7 673.4L1444.7 673.2L1439.7 673.1L1434.6 673L1429.4 672.9L1424.3 672.7L1419.3 672.6L1414.3 672.4L1409.4 672.3L1404.4 672.1L1399.4 671.9L1394.4 671.7L1389.4 671.5L1384.4 671.3L1379.5 671.1L1374.4 670.8L1369.3 670.6L1364.2 670.3L1359.2 670L1354.1 669.7L1349.2 669.3L1344.3 669L1339.6 668.6L1335.7 668.3L1331.8 668L1328.1 667.7L1324.4 667.4L1320.8 667L1317.2 666.6L1313.6 666L1310 665.4L1306.3 664.6L1302.5 663.8L1298.8 662.8L1295.1 661.7L1291.4 660.6L1287.7 659.5L1284 658.3L1280.4 657.2L1276.9 656L1273.5 654.9L1270.1 653.7L1266.7 652.4L1263.3 651.2L1259.9 650L1256.5 648.7L1252.6 647.4L1248.1 647.3L1244 647.3L1239.8 647.2L1235.6 647.2L1231.5 647.1L1227.5 647.1L1223.7 647.1L1220 647L1217.3 647L1214.8 647L1212.5 647L1210.2 647L1207.8 647L1205.4 647L1202.8 647L1200 646.9L1195.6 646.9L1190.8 646.8L1185.8 646.7L1180.6 646.6L1175.2 646.5L1169.7 646.4L1164.2 646.2L1158.7 646L1152.5 645.7L1146.2 645.4L1139.8 645.1L1133.3 644.8L1126.7 644.3L1120.1 643.9L1113.6 643.4L1107.2 642.8L1100.6 642.1L1093.8 641.4L1087 640.6L1080.3 639.8L1073.6 638.9L1067.2 638.1L1061.2 637.2L1055.6 636.3L1052 635.7L1048.6 635.1L1045.3 634.5L1042.2 633.9L1039.2 633.2L1036.1 632.6L1033.1 631.9L1029.9 631.1L1026.7 630.4L1023.4 629.6L1020.2 628.8L1017 628L1013.8 627.1L1010.6 626.2L1007.5 625.2L1004.3 624.1L1001.1 622.9L997.8 621.6L994.6 620.3L991.3 618.9L988.1 617.4L985 615.9L981.9 614.3L978.9 612.8L976.3 611.3L973.7 609.8L971.1 608.2L968.6 606.5L966.1 604.9L963.8 603.3L961.4 601.7L959.2 600.1L957.5 598.9L955.8 597.7L954.2 596.5L952.6 595.3L951.1 594.1L949.6 592.9L948 591.7L946.4 590.4L944.8 589.1L943.1 587.8L941.4 586.4L939.7 585.1L938.1 583.7L936.5 582.4L935 581.1L933.5 579.9L932.5 578.9L931.5 578L930.5 577.1L929.5 576.2L928.6 575.4L927.6 574.5L926.7 573.6L925.7 572.7L921.9 576.7L922.9 577.6L923.8 578.5L924.7 579.4L925.7 580.3L926.7 581.2L927.7 582.2L928.7 583.1L929.9 584.1L931.3 585.4L932.9 586.7L934.5 588L936.2 589.4L937.9 590.8L939.6 592.1L941.3 593.5L943 594.8L944.6 596L946.1 597.3L947.7 598.5L949.2 599.7L950.8 600.9L952.5 602.2L954.2 603.4L956 604.7L958.3 606.2L960.6 607.9L963 609.5L965.6 611.2L968.2 612.9L970.8 614.5L973.5 616.1L976.3 617.6L979.4 619.3L982.5 620.8L985.8 622.4L989.1 623.9L992.4 625.4L995.8 626.7L999.1 628.1L1002.5 629.3L1005.7 630.4L1009 631.4L1012.3 632.4L1015.6 633.3L1018.9 634.1L1022.1 634.9L1025.4 635.7L1028.7 636.5L1031.8 637.2L1035 637.9L1038 638.6L1041.1 639.2L1044.3 639.9L1047.6 640.5L1051.1 641.1L1054.8 641.7L1060.4 642.6L1066.5 643.5L1072.9 644.4L1079.6 645.2L1086.4 646L1093.2 646.8L1100 647.6L1106.6 648.2L1113.2 648.8L1119.7 649.3L1126.3 649.7L1132.9 650.1L1139.5 650.5L1145.9 650.8L1152.3 651.1L1158.5 651.4L1164 651.6L1169.5 651.8L1175.1 651.9L1180.5 652L1185.7 652.1L1190.8 652.2L1195.5 652.2L1200 652.3L1202.8 652.3L1205.4 652.3L1207.8 652.3L1210.1 652.3L1212.5 652.3L1214.8 652.3L1217.3 652.3L1220 652.4L1223.6 652.4L1227.5 652.4L1231.5 652.5L1235.6 652.5L1239.8 652.5L1243.9 652.6L1248.1 652.6L1251.8 652.6L1254.8 653.7L1258.2 654.8L1261.6 656L1265 657.2L1268.5 658.3L1272 659.5L1275.5 660.6L1279 661.6L1282.7 662.7L1286.4 663.8L1290.2 664.9L1293.9 665.9L1297.7 666.9L1301.6 667.8L1305.4 668.7L1309.2 669.4L1313 670L1316.7 670.4L1320.4 670.8L1324.1 671.1L1327.8 671.3L1331.6 671.5L1335.4 671.8L1339.4 672L1344.1 672.3L1349 672.6L1354 672.8L1359 673L1364.1 673.2L1369.2 673.4L1374.3 673.6L1379.3 673.7L1384.3 673.9L1389.3 674L1394.3 674.1L1399.3 674.2L1404.3 674.2L1409.3 674.3L1414.3 674.4L1419.3 674.4L1424.3 674.5L1429.4 674.5L1434.5 674.6L1439.6 674.6L1444.7 674.6L1449.6 674.7L1454.5 674.7L1459.1 674.8L1462.8 674.8L1466.4 674.9L1469.9 675L1473.3 675L1476.7 675.1L1480.1 675.2L1483.5 675.3L1487 675.3Z"/>
<path fill="#a4a4a4" d="M15 451.8L25.7 452.1L36.5 452.4L47.4 452.7L58.3 453L69 453.2L79.6 453.6L89.9 453.9L100 454.3L108.4 454.6L116.8 454.9L125 455.2L133 455.6L140.9 456L148.6 456.5L156.2 457.1L163.6 457.8L169.9 458.6L176 459.4L182 460.3L187.9 461.3L193.7 462.4L199.5 463.6L205.3 464.8L211.1 466.1L217.1 467.5L223 469L229 470.7L234.9 472.4L240.9 474.1L246.8 475.9L252.8 477.7L259.1 479.4L264.5 479.5L269.5 479.6L274.5 479.6L279.4 479.6L284.4 479.6L289.3 479.8L294.2 480L299.2 480.4L304.2 480.8L309.4 481.4L314.6 482L319.8 482.7L324.9 483.5L329.8 484.4L334.7 485.4L339.3 486.6L343.1 487.7L346.9 489L350.6 490.3L354.2 491.7L357.7 493.1L361.1 494.7L364.6 496.4L367.9 498.2L371.3 500.1L374.6 502.1L377.9 504.2L381.2 506.4L384.3 508.6L387.4 511L390.4 513.4L393.3 515.9L396.1 518.5L398.8 521.2L401.4 524L404 526.8L406.5 529.7L408.9 532.7L411.3 535.8L413.6 538.8L415.7 541.8L417.8 545L419.7 548.2L421.6 551.4L423.5 554.7L425.4 558L427.3 561.4L429.3 564.7L434.3 561.7L432.3 558.5L430.4 555.2L428.5 551.8L426.6 548.5L424.7 545.2L422.6 541.9L420.5 538.6L418.2 535.4L415.9 532.3L413.4 529.1L410.9 526.1L408.3 523L405.6 520.1L402.9 517.2L400 514.4L397.1 511.7L394.1 509L390.9 506.5L387.7 504.1L384.4 501.7L381 499.4L377.6 497.2L374.2 495.2L370.7 493.2L367.1 491.4L363.6 489.6L360 488L356.3 486.4L352.5 485L348.7 483.6L344.8 482.4L340.7 481.2L335.9 480L330.9 478.9L325.8 478L320.6 477.2L315.3 476.5L310 475.8L304.8 475.3L299.6 474.8L294.6 474.5L289.5 474.2L284.5 474.1L279.5 474.1L274.5 474L269.5 474L264.5 474L259.9 474L254.2 472.5L248.2 470.9L242.3 469.2L236.2 467.6L230.2 466L224.2 464.5L218.1 463L212.1 461.7L206.1 460.5L200.2 459.4L194.4 458.4L188.5 457.4L182.6 456.6L176.5 455.8L170.3 455L164 454.4L156.5 453.8L148.8 453.3L141 453L133.1 452.7L125.1 452.6L116.9 452.4L108.5 452.3L100 452.1L90 451.9L79.6 451.7L69 451.6L58.3 451.5L47.4 451.4L36.5 451.3L25.7 451.3L15 451.2Z"/>
<path fill="#a4a4a4" d="M27.2 566.1L40.5 566L54.5 566L68.9 565.9L83.1 565.8L96.7 565.7L109.2 565.6L120.3 565.4L129.3 565.3L132.6 565.2L135.5 565.2L138 565.1L140.3 565.1L142.5 565L144.8 564.9L147.3 564.8L150.1 564.7L154.5 564.6L159.2 564.4L164.3 564.2L169.5 564L174.7 563.8L180 563.5L185.2 563.2L190.1 562.8L194.4 562.4L198.8 562L203.1 561.5L207.3 561L211.4 560.5L215.5 559.9L219.5 559.4L223.5 558.8L226.8 558.3L230.1 557.7L233.3 557.1L236.4 556.5L239.5 555.9L242.6 555.3L245.7 554.7L248.5 554.2L252.6 554.3L256.9 554.4L261.2 554.5L265.5 554.6L269.9 554.7L274.2 554.8L278.5 554.9L282.9 554.9L287.2 555L291.6 555L295.9 555.1L300.3 555.1L304.7 555.2L309 555.2L313.3 555.2L317.6 555.3L321.7 555.3L326 555.3L330.2 555.4L334.4 555.4L338.5 555.4L342.5 555.5L346.3 555.6L349.9 555.7L352.5 555.8L354.9 555.9L357.2 556L359.4 556.2L361.6 556.3L363.9 556.5L366.4 556.7L369 556.9L373.3 557.3L378 557.9L383 558.4L388.1 559.1L393.3 559.7L398.4 560.4L403.2 561.1L407.7 561.7L410.9 562.2L414 562.8L416.9 563.3L419.8 563.8L422.7 564.4L425.5 564.9L428.4 565.4L431.3 566L432.3 560.4L429.4 559.9L426.5 559.4L423.7 558.9L420.8 558.3L417.9 557.8L414.9 557.3L411.8 556.8L408.5 556.3L404 555.6L399.1 554.9L394 554.3L388.8 553.6L383.6 553L378.6 552.4L373.9 551.9L369.6 551.5L366.8 551.2L364.3 551L362 550.9L359.7 550.7L357.5 550.6L355.1 550.5L352.7 550.4L350.1 550.3L346.4 550.2L342.6 550.1L338.5 550.1L334.4 550L330.2 550L326 550L321.8 550L317.6 549.9L313.3 549.9L309 549.9L304.7 549.8L300.3 549.8L296 549.8L291.6 549.8L287.3 549.7L282.9 549.7L278.6 549.6L274.3 549.5L270 549.4L265.7 549.4L261.3 549.3L257 549.2L252.7 549.1L248.1 549L244.7 549.7L241.6 550.4L238.5 551L235.4 551.7L232.3 552.4L229.2 553L226 553.6L222.7 554.2L218.8 554.9L214.9 555.5L210.8 556.2L206.7 556.8L202.5 557.4L198.3 558L194 558.5L189.7 559L184.9 559.4L179.8 559.9L174.5 560.2L169.3 560.6L164.1 560.9L159.1 561.2L154.3 561.4L149.9 561.7L147.1 561.8L144.7 562L142.4 562.1L140.2 562.2L137.9 562.3L135.4 562.4L132.6 562.6L129.3 562.7L120.2 563L109.2 563.3L96.7 563.7L83.1 564L68.9 564.4L54.5 564.7L40.5 565.1L27.2 565.5Z"/>
<path fill="#a4a4a4" d="M38.3 661.5L45.5 661.4L52.8 661.4L60.2 661.3L67.5 661.2L74.8 661.1L81.9 661L88.9 660.8L95.8 660.5L101.7 660.3L107.5 660L113.3 659.7L119.1 659.3L124.6 658.9L130 658.4L135.1 657.8L140 657.1L143.4 656.5L146.7 655.9L149.8 655.2L152.8 654.5L155.8 653.8L158.7 652.9L161.5 652L164.5 651L167.5 649.9L170.4 648.6L173.2 647.3L176.1 646L178.9 644.6L181.6 643.2L184.4 641.8L186.5 640.7L190.2 640.7L194.2 640.7L198.3 640.7L202.4 640.7L206.5 640.6L210.8 640.6L215.1 640.5L219.6 640.4L225.2 640.1L231.2 639.9L237.4 639.6L243.6 639.2L249.8 638.8L256 638.4L261.9 638L267.5 637.6L272 637.2L276.3 636.9L280.6 636.6L284.9 636.2L289 635.8L292.9 635.3L296.8 634.8L300.4 634.3L303.1 633.8L305.5 633.3L307.8 632.8L310 632.3L312.2 631.7L314.5 631.1L317 630.4L319.7 629.6L324.7 628.3L330.4 626.8L336.6 625.2L343.1 623.4L349.6 621.5L356.1 619.4L362.2 617.2L367.9 614.8L372.5 612.5L377 610.1L381.3 607.5L385.4 604.9L389.3 602.2L393.2 599.5L396.8 596.8L400.4 594.2L403.2 592.1L406 589.8L408.7 587.6L411.2 585.4L413.7 583.3L416.1 581.1L418.4 579.1L420.6 577.1L422.4 575.5L424.1 574L425.8 572.5L427.4 571L429 569.6L430.5 568.2L432.1 566.7L433.7 565.3L429.9 561.1L428.3 562.6L426.7 564L425.2 565.5L423.6 566.9L422 568.4L420.4 569.8L418.7 571.3L417 572.9L414.7 574.9L412.4 577L410 579.1L407.6 581.2L405.1 583.4L402.5 585.5L399.8 587.7L397 589.8L393.5 592.4L389.9 595L386.2 597.7L382.3 600.3L378.3 602.9L374.2 605.3L370 607.7L365.7 609.8L360.2 612.1L354.3 614.2L348 616.3L341.6 618.2L335.2 619.9L329 621.5L323.3 623L318.3 624.4L315.5 625.1L313.1 625.8L310.8 626.4L308.6 627L306.5 627.5L304.4 628L302.1 628.5L299.6 628.9L296 629.5L292.3 630L288.4 630.4L284.4 630.8L280.2 631.2L275.9 631.5L271.5 631.9L267.1 632.2L261.5 632.6L255.6 633.1L249.5 633.5L243.3 633.9L237.1 634.2L230.9 634.5L225 634.8L219.4 635L215 635.2L210.7 635.3L206.5 635.3L202.4 635.4L198.3 635.4L194.2 635.4L190.1 635.4L185.5 635.5L182 637.2L179.3 638.6L176.6 640.1L173.8 641.6L171.1 643L168.4 644.4L165.7 645.6L162.9 646.8L160.1 647.9L157.3 648.8L154.6 649.7L151.8 650.6L148.9 651.4L145.9 652.1L142.7 652.8L139.4 653.5L134.6 654.3L129.6 655.1L124.3 655.7L118.8 656.3L113.1 656.9L107.4 657.3L101.5 657.8L95.6 658.3L88.8 658.7L81.9 659.1L74.7 659.5L67.5 659.7L60.1 660L52.8 660.3L45.5 660.5L38.3 660.9Z"/>
<circle cx="443.5" cy="158" r="3" fill="#9a9a9a"/>
<circle cx="923.6" cy="146.7" r="3" fill="#b7b7b7"/>
<circle cx="1009.5" cy="367.5" r="3" fill="#b7b7b7"/>
<circle cx="923.8" cy="574.7" r="3" fill="#838383"/>
<circle cx="431.8" cy="563.2" r="3" fill="#a4a4a4"/>
</g>
<g id="centre"><path fill="#fff" d="M807.8 314.9L807.4 313.7L807.1 312.4L806.8 311.2L806.4 310L806.1 308.7L805.7 307.5L805.2 306.4L804.7 305.2L804.1 304.1L803.4 302.9L802.7 301.8L802 300.8L801.2 299.7L800.4 298.7L799.5 297.6L798.6 296.6L797.6 295.5L796.5 294.4L795.3 293.4L794.1 292.3L792.9 291.3L791.6 290.3L790.3 289.3L789 288.3L787.6 287.3L786.1 286.2L784.6 285.2L783.1 284.2L781.6 283.3L780 282.3L778.4 281.4L776.8 280.5L775 279.6L773.2 278.7L771.4 277.9L769.5 277L767.6 276.2L765.7 275.4L763.8 274.7L762 273.9L760.3 273.2L758.5 272.4L756.8 271.7L755 271L753.3 270.3L751.6 269.6L749.9 269L748.3 268.4L746.9 267.9L745.5 267.5L744.2 267L742.9 266.6L741.5 266.2L740.2 265.8L738.8 265.4L737.3 265L735.4 264.5L733.5 263.9L731.5 263.4L729.5 262.9L727.4 262.4L725.3 261.8L723.2 261.4L721 260.9L718.5 260.4L716 259.9L713.4 259.5L710.8 259.1L708.2 258.7L705.5 258.3L702.9 258L700.3 257.7L697.8 257.5L695.3 257.3L692.9 257.1L690.4 256.9L688 256.8L685.5 256.7L683 256.7L680.5 256.6L677.9 256.5L675.3 256.5L672.7 256.5L670.1 256.5L667.5 256.5L664.8 256.5L662.1 256.6L659.3 256.8L655.9 257L652.4 257.3L648.8 257.6L645.1 258L641.4 258.5L637.7 258.9L634.1 259.5L630.6 260.1L627.3 260.7L624 261.4L620.8 262.1L617.6 262.9L614.4 263.8L611.1 264.6L607.9 265.6L604.7 266.6L601.3 267.7L597.7 268.9L594.2 270.2L590.7 271.5L587.2 272.9L583.8 274.3L580.5 275.8L577.4 277.3L574.8 278.6L572.3 280L569.8 281.4L567.4 282.8L565.1 284.3L562.9 285.8L560.7 287.3L558.7 288.8L557.1 290.1L555.5 291.4L554 292.7L552.6 294L551.2 295.4L549.9 296.7L548.5 298.2L547.2 299.6L545.8 301.1L544.5 302.6L543.2 304.2L541.9 305.8L540.6 307.4L539.4 309.1L538.3 310.8L537.2 312.5L536.2 314.2L535.2 315.9L534.3 317.7L533.4 319.5L532.6 321.3L531.8 323.2L531.1 325.1L530.5 327L529.9 329.1L529.3 331.3L528.9 333.6L528.5 335.9L528.1 338.2L527.9 340.5L527.7 342.8L527.6 345.1L527.6 347.4L527.7 349.7L527.8 352L528.1 354.3L528.4 356.6L528.8 358.9L529.3 361.2L529.9 363.5L530.6 365.9L531.4 368.2L532.3 370.6L533.3 372.9L534.3 375.2L535.5 377.5L536.7 379.7L538 381.9L539.4 384L540.9 386.1L542.5 388.1L544.2 390L546 392L547.8 393.9L549.7 395.9L551.7 397.9L554.2 400.5L556.8 403.2L559.5 406L562.3 408.8L565.3 411.5L568.3 414.1L571.4 416.5L574.7 418.6L578.2 420.5L582 422.1L586 423.5L590 424.7L594 425.9L598 427L601.9 428L605.5 429.1L608.3 430L611 430.8L613.6 431.6L616.1 432.4L618.6 433.1L621.2 433.8L623.9 434.5L626.6 435.1L629.8 435.7L633 436.3L636.3 436.8L639.7 437.3L643.1 437.7L646.5 438.1L649.8 438.5L653.2 438.8L656.5 439.1L659.8 439.3L663.1 439.5L666.4 439.7L669.8 439.8L673.1 439.9L676.4 439.9L679.7 439.8L683 439.7L686.4 439.4L689.7 439.2L693 438.8L696.3 438.5L699.7 438L703 437.6L706.3 437.1L709.7 436.6L713.3 435.9L716.9 435.3L720.4 434.5L723.9 433.8L727.2 433.1L730.2 432.4L732.9 431.8L734.4 431.5L735.6 431.2L736.8 430.9L737.9 430.6L739 430.3L740.2 430L741.4 429.6L742.9 429.1L746 428.1L749.5 426.8L753.5 425.3L757.6 423.8L761.7 422.1L765.7 420.4L769.5 418.7L772.8 417.1L775 415.9L777.1 414.7L779 413.5L780.8 412.3L782.6 411L784.4 409.7L786.2 408.4L788 407L790 405.4L791.9 403.8L793.9 402.1L795.9 400.3L797.8 398.6L799.6 396.8L801.4 395L803.1 393.2L804.5 391.6L805.9 390L807.3 388.4L808.6 386.8L809.8 385.2L811 383.6L812.1 382L813.2 380.3L814.2 378.7L815.1 377.1L816 375.5L816.8 373.9L817.6 372.3L818.3 370.6L819 369L819.6 367.4L820.1 365.9L820.5 364.5L820.9 363L821.2 361.5L821.5 360.1L821.7 358.6L821.9 357.2L822.1 355.9L822.2 354.8L822.3 353.8L822.3 352.8L822.3 351.8L822.3 350.9L822.3 349.9L822.3 349L822.3 348L822.3 347.1L822.4 346.2L822.5 345.4L822.5 344.5L822.5 343.6L822.5 342.7L822.5 341.8L822.3 340.8L822 339.4L821.5 337.8L820.9 336.2L820.2 334.6L819.5 332.9L818.7 331.2L817.9 329.6L817 328L816 326.3L815 324.7L813.8 323L812.6 321.4L811.4 319.8L810.2 318.2L809 316.5L807.8 314.9Z"/><path fill="#838383" stroke="#838383" stroke-width="0.7" stroke-linejoin="round" d="M786.4 335.7L787.5 335.6L788.6 335.5L789.7 335.4L790.8 335.3L791.9 335.2L792.9 335L794 334.8L795 334.5L796 334.1L797 333.7L798 333.2L798.9 332.7L799.8 332.1L800.7 331.5L801.5 330.9L802.3 330.2L803 329.5L803.6 328.7L804.2 327.9L804.8 327.1L805.3 326.2L805.7 325.3L806.1 324.4L806.5 323.5L806.8 322.5L807.1 321.5L807.4 320.4L807.6 319.3L807.7 318.2L807.8 317.1L807.9 316L807.8 314.9L807.7 313.7L807.4 312.5L807.1 311.2L806.7 310L806.3 308.8L805.8 307.5L805.3 306.4L804.7 305.2L804.1 304.1L803.4 302.9L802.7 301.8L802 300.8L801.2 299.7L800.4 298.7L799.5 297.6L798.6 296.6L797.6 295.5L796.5 294.4L795.3 293.4L794.1 292.3L792.9 291.3L791.6 290.3L790.3 289.3L789 288.3L787.6 287.3L786.1 286.2L784.6 285.2L783.1 284.2L781.6 283.3L780 282.3L778.4 281.4L776.8 280.5L775 279.6L773.2 278.7L771.4 277.9L769.5 277L767.6 276.2L765.7 275.4L763.8 274.7L762 273.9L760.3 273.2L758.5 272.4L756.8 271.7L755 271L753.3 270.3L751.6 269.6L749.9 269L748.3 268.4L746.9 267.9L745.5 267.5L744.2 267L742.9 266.6L741.5 266.2L740.2 265.8L738.8 265.4L737.3 265L735.4 264.5L733.5 263.9L731.5 263.4L729.5 262.9L727.4 262.4L725.3 261.8L723.2 261.4L721 260.9L718.5 260.4L716 259.9L713.4 259.5L710.8 259.1L708.2 258.7L705.5 258.3L702.9 258L700.3 257.7L697.8 257.5L695.3 257.3L692.9 257.1L690.4 256.9L688 256.8L685.5 256.7L683 256.7L680.5 256.6L677.9 256.5L675.3 256.5L672.7 256.5L670.1 256.5L667.5 256.5L664.8 256.5L662.1 256.6L659.3 256.8L655.9 257L652.4 257.3L648.8 257.6L645.1 258L641.4 258.5L637.7 258.9L634.1 259.5L630.6 260.1L627.3 260.7L624 261.4L620.8 262.1L617.6 262.9L614.4 263.8L611.1 264.6L607.9 265.6L604.7 266.6L601.3 267.7L597.7 268.9L594.2 270.2L590.7 271.5L587.2 272.9L583.8 274.3L580.5 275.8L577.4 277.3L574.8 278.6L572.3 280L569.8 281.4L567.4 282.8L565.1 284.3L562.9 285.8L560.7 287.3L558.7 288.8L557.1 290.1L555.5 291.4L554 292.7L552.6 294L551.2 295.4L549.9 296.7L548.5 298.2L547.2 299.6L545.8 301.1L544.5 302.6L543.2 304.2L541.9 305.8L540.6 307.4L539.4 309.1L538.3 310.8L537.2 312.5L536.2 314.2L535.2 315.9L534.3 317.7L533.4 319.5L532.6 321.3L531.8 323.2L531.1 325.1L530.5 327L529.9 329.1L529.3 331.3L528.9 333.6L528.5 335.9L528.1 338.2L527.9 340.5L527.7 342.8L527.6 345.1L527.6 347.4L527.7 349.7L527.8 352L528.1 354.3L528.4 356.6L528.8 358.9L529.3 361.2L529.9 363.5L530.6 365.9L531.4 368.2L532.3 370.6L533.3 372.9L534.3 375.2L535.5 377.5L536.7 379.7L538 381.9L539.4 384L540.9 386.1L542.5 388.1L544.2 390L546 392L547.8 393.9L549.7 395.9L551.7 397.9L554.2 400.5L556.8 403.2L559.5 406L562.3 408.8L565.3 411.5L568.3 414.1L571.4 416.5L574.7 418.6L578.2 420.5L582 422.1L586 423.5L590 424.7L594 425.9L598 427L601.9 428L605.5 429.1L608.3 430L611 430.8L613.6 431.6L616.1 432.4L618.6 433.1L621.2 433.8L623.9 434.5L626.6 435.1L629.8 435.7L633 436.3L636.3 436.8L639.7 437.3L643.1 437.7L646.5 438.1L649.8 438.5L653.2 438.8L656.5 439.1L659.8 439.3L663.1 439.5L666.4 439.7L669.8 439.8L673.1 439.9L676.4 439.9L679.7 439.8L683 439.7L686.4 439.4L689.7 439.2L693 438.8L696.3 438.5L699.7 438L703 437.6L706.3 437.1L709.7 436.6L713.3 435.9L716.9 435.3L720.4 434.5L723.9 433.8L727.2 433.1L730.2 432.4L732.9 431.8L734.4 431.5L735.6 431.2L736.8 430.9L737.9 430.6L739 430.3L740.2 430L741.4 429.6L742.9 429.1L746 428.1L749.5 426.8L753.5 425.3L757.6 423.8L761.7 422.1L765.7 420.4L769.5 418.7L772.8 417.1L775 415.9L777.1 414.7L779 413.5L780.8 412.3L782.6 411L784.4 409.7L786.2 408.4L788 407L790 405.4L791.9 403.8L793.9 402.1L795.9 400.3L797.8 398.6L799.6 396.8L801.4 395L803.1 393.2L804.5 391.6L805.9 390L807.3 388.4L808.6 386.8L809.8 385.2L811 383.6L812.1 382L813.2 380.3L814.2 378.7L815.1 377.1L816 375.5L816.8 373.9L817.6 372.3L818.3 370.6L819 369L819.6 367.4L820.1 365.9L820.5 364.5L820.9 363L821.2 361.5L821.5 360.1L821.7 358.6L821.9 357.2L822.1 355.9L822.2 354.8L822.3 353.8L822.3 352.8L822.3 351.9L822.3 350.9L822.3 349.9L822.3 349L822.3 348L821.5 352L821 353.6L820.6 355.2L820.1 356.8L819.7 358.4L819.2 360L818.7 361.6L818.1 363.1L817.5 364.5L816.9 365.7L816.2 366.8L815.5 367.9L814.8 368.9L814.1 369.9L813.3 370.9L812.5 372L811.7 373.1L810.7 374.5L809.8 375.8L808.8 377.3L807.7 378.7L806.7 380.1L805.5 381.6L804.4 383.1L803.1 384.5L801.5 386.3L799.7 388.1L797.9 389.9L796 391.8L794 393.6L792 395.3L790 397L788 398.5L786.2 399.8L784.4 401L782.6 402.2L780.7 403.3L778.9 404.4L777 405.4L775 406.4L773 407.5L770.6 408.7L768.2 409.9L765.7 411.1L763.1 412.3L760.6 413.4L758 414.5L755.4 415.5L752.8 416.5L750.3 417.4L747.9 418.2L745.5 419L743.1 419.8L740.6 420.5L738.1 421.2L735.5 421.9L732.9 422.5L729.8 423.2L726.5 423.9L723.2 424.5L719.9 425.1L716.5 425.6L713.1 426.1L709.7 426.6L706.3 427.1L703 427.6L699.7 428L696.3 428.4L693 428.8L689.7 429.1L686.4 429.4L683 429.6L679.7 429.8L676.4 429.9L673 429.9L669.6 429.9L666.2 429.8L662.9 429.7L659.6 429.5L656.3 429.3L653.2 429.1L650.6 428.9L648.1 428.7L645.6 428.4L643.2 428.2L640.8 427.9L638.4 427.5L635.9 427L633.2 426.5L629.7 425.7L626 424.8L622.2 423.7L618.3 422.6L614.4 421.3L610.5 420L606.7 418.7L603 417.3L599.6 415.9L596.2 414.5L592.8 413.1L589.4 411.6L586.2 410L583 408.4L579.9 406.6L577 404.8L574.4 403L571.9 401.2L569.4 399.3L567.1 397.3L564.8 395.3L562.6 393.2L560.6 391L558.6 388.8L556.8 386.7L555.2 384.5L553.6 382.2L552 379.9L550.6 377.5L549.4 375.2L548.2 372.8L547.2 370.4L546.4 368.1L545.7 365.8L545.2 363.4L544.7 361L544.3 358.6L544.1 356.3L543.8 354.1L543.7 352L543.6 350.5L543.6 349L543.6 347.6L543.7 346.3L543.8 344.9L544 343.6L544.2 342.3L544.5 341L544.8 339.7L545.2 338.5L545.7 337.3L546.2 336.1L546.7 334.9L547.3 333.7L548 332.5L548.7 331.2L549.7 329.5L550.8 327.7L551.9 325.9L553.1 324L554.5 322.1L555.8 320.3L557.2 318.5L558.7 316.8L560.3 315.1L561.9 313.3L563.6 311.7L565.4 310L567.2 308.4L569.1 306.9L571.1 305.4L573.1 303.9L575.5 302.3L578.1 300.8L580.7 299.4L583.5 298L586.3 296.7L589.1 295.4L591.9 294.2L594.7 293.1L597.3 292.1L599.9 291.2L602.6 290.3L605.2 289.6L607.9 288.8L610.6 288.1L613.3 287.4L616.2 286.7L619.6 285.9L623.2 285.1L626.9 284.4L630.6 283.7L634.3 283L638 282.4L641.5 281.8L644.9 281.4L647.6 281.1L650.2 280.8L652.7 280.6L655.2 280.4L657.6 280.3L660.1 280.2L662.5 280.2L665 280.2L667.5 280.2L670 280.3L672.6 280.4L675.1 280.6L677.6 280.8L680.1 281.1L682.6 281.4L685 281.8L687.3 282.2L689.6 282.7L691.9 283.2L694.1 283.8L696.3 284.4L698.6 285.1L700.8 285.8L703 286.6L705.3 287.5L707.6 288.4L709.9 289.4L712.2 290.5L714.5 291.5L716.7 292.6L718.9 293.7L721 294.8L722.8 295.7L724.6 296.7L726.3 297.7L728 298.6L729.6 299.6L731.3 300.6L732.9 301.6L734.6 302.6L736.3 303.7L738 304.7L739.8 305.8L741.5 306.9L743.2 308L744.9 309.1L746.6 310.3L748.3 311.4L750 312.6L751.8 313.8L753.5 315L755.2 316.2L756.9 317.4L758.6 318.6L760.3 319.8L761.9 321L763.3 322.1L764.7 323.1L766.1 324.2L767.5 325.3L768.9 326.3L770.2 327.3L771.5 328.3L772.8 329.2L773.9 329.9L774.9 330.6L776 331.3L777 331.9L778.1 332.5L779.1 333L780 333.6L781 334L781.7 334.3L782.4 334.5L783.1 334.8L783.8 335L784.4 335.1L785.1 335.3L785.7 335.5L786.4 335.7Z"/></g>
<g id="latin" font-family="'Liberation Sans', sans-serif" font-size="33.7" fill="#231f20"><text x="107.0" y="73.8">before</text>
<text x="66.8" y="187.8">direction</text>
<text x="644.5" y="359.7">after</text>
<text x="1080" y="343">water</text>
<text x="271.2" y="539" letter-spacing="0.4">since</text>
<text x="1021.5" y="165.3" transform="rotate(4 1021.5 165.3)">prep.</text>
<text x="1070.3" y="280" transform="rotate(-11.3 1070.3 280)" font-size="34.8">alter</text>
<text letter-spacing="0.65"><textPath href="#p1" startOffset="9">adj./adv.</textPath></text>
<text letter-spacing="0.2"><textPath href="#p2" startOffset="9.8">matter</textPath></text>
<text><textPath href="#p3" startOffset="10">after all</textPath></text>
<text letter-spacing="0.2"><textPath href="#p4" startOffset="9.5">be after doing sth</textPath></text>
<text font-size="33.5" letter-spacing="0.15"><textPath href="#p5" startOffset="13.5">behind</textPath></text>
<text><textPath href="#p6" startOffset="10">afterwards</textPath></text></g>
<g id="cjk" fill="#231f20" font-family="'Liberation Serif', 'Noto Serif CJK SC', serif" font-size="33" text-anchor="middle">
<text transform="translate(287 72.3) rotate(1)" x="0" y="12.5">在</text>
<text transform="translate(334.6 77.7) rotate(6.4)" x="0" y="11" font-size="29">……</text>
<text transform="translate(377.4 84.5) rotate(15)" x="0" y="12.5">之</text>
<text transform="translate(413.8 92.9) rotate(16)" x="0" y="12.5">前</text>
<text transform="translate(487.9 144.8) rotate(13)" x="0" y="12.5">联</text>
<text transform="translate(521.8 157.8) rotate(20)" x="0" y="12.5">想</text>
<text transform="translate(310 168.4) rotate(-3)" x="0" y="12.5">方</text>
<text transform="translate(344 167.0) rotate(-3)" x="0" y="12.5">向</text>
<text transform="translate(834.3 151.5) rotate(-34)" x="0" y="12.5">词</text>
<text transform="translate(868.6 137.5) rotate(-27)" x="0" y="12.5">义</text>
<text transform="translate(1197.9 49.7) rotate(-3)" x="0" y="12.5">后</text>
<text transform="translate(1232.8 48.4) rotate(-3)" x="0" y="12.5">来</text>
<text transform="translate(1177.2 166.4) rotate(6)" x="0" y="12.5">在</text>
<text transform="translate(1226.2 169.9) rotate(3.9)" x="0" y="12" font-size="32">……</text>
<text transform="translate(1274.1 169.7) rotate(3)" x="0" y="12.5">后</text>
<text transform="translate(893.4 330.8) rotate(8)" x="0" y="12.5">形</text>
<text transform="translate(929.2 335.8) rotate(8)" x="0" y="12.5">近</text>
<text transform="translate(962 339.4) rotate(8)" x="0" y="12.5">词</text>
<text transform="translate(1233.7 246) rotate(-2)" x="0" y="12.5">改</text>
<text transform="translate(1268.2 245.7) rotate(-2)" x="0" y="12.5">变</text>
<text transform="translate(1256 330)" x="0" y="12.5">水</text>
<text transform="translate(1263.8 426.3) rotate(2)" x="0" y="12.5">问</text>
<text transform="translate(1297.4 427.6) rotate(2)" x="0" y="12.5">题</text>
<text transform="translate(864.8 513.8) rotate(40)" x="0" y="12.5">短</text>
<text transform="translate(892 534.5) rotate(38)" x="0" y="12.5">语</text>
<text transform="translate(1217 506.4)" x="0" y="12.5">毕</text>
<text transform="translate(1252.1 507.3)" x="0" y="12.5">竟</text>
<text transform="translate(1306.4 641.4) rotate(8)" x="0" y="12.5">正</text>
<text transform="translate(1339 646) rotate(7)" x="0" y="12.5">要</text>
<text transform="translate(1373.1 649.1) rotate(5)" x="0" y="12.5">做</text>
<text transform="translate(1407.3 650.7) rotate(3)" x="0" y="12.5">某</text>
<text transform="translate(1441.4 652.3) rotate(3)" x="0" y="12.5">事</text>
<text transform="translate(51.3 429)" x="0" y="12.5">在</text>
<text transform="translate(102.3 428.7)" x="0" y="12.7" font-size="33.6">……</text>
<text transform="translate(152.2 429.4)" x="0" y="12.5">的</text>
<text transform="translate(184.7 430.8) rotate(3)" x="0" y="12.5">后</text>
<text transform="translate(222.5 433.6) rotate(6)" x="0" y="12.5">面</text>
<text transform="translate(63.4 541.3) rotate(-2)" x="0" y="12.5">自</text>
<text transform="translate(113.3 539.4) rotate(-1.3)" x="0" y="12.6" font-size="33.3">……</text>
<text transform="translate(165.5 538.7) rotate(-2)" x="0" y="12.5">以</text>
<text transform="translate(197.8 537.4) rotate(-2)" x="0" y="12.5">后</text>
<text transform="translate(74 637.3) rotate(-3)" x="0" y="12.5">之</text>
<text transform="translate(106.9 635.7) rotate(-3)" x="0" y="12.5">后</text>
<text transform="translate(457.4 524) rotate(-30)" x="0" y="12.5">近</text>
<text transform="translate(486 507.4) rotate(-35)" x="0" y="12.5">义</text>
<text transform="translate(508.5 483.4) rotate(-45)" x="0" y="12.5">词</text>
</g>
</svg>
</body></html>
